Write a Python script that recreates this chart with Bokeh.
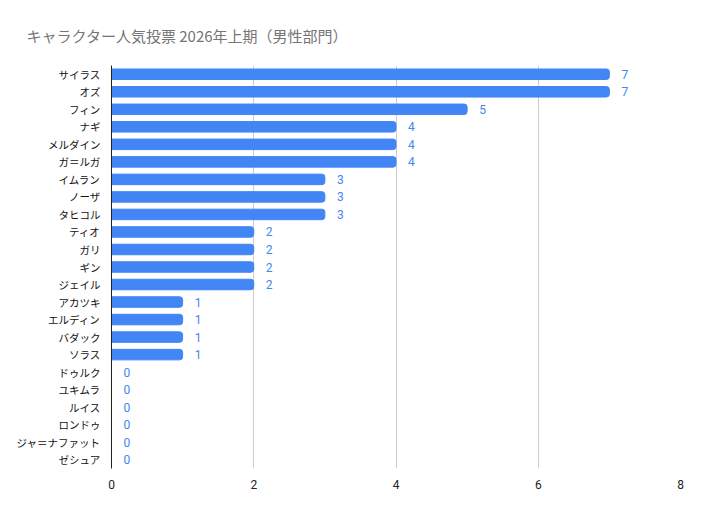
from bokeh.plotting import figure
from bokeh.models import ColumnDataSource, FactorRange, FixedTicker, Title
from bokeh.core.properties import value
from bokeh.embed import file_html
from bokeh.resources import INLINE

names = ["サイラス", "オズ", "フィン", "ナギ", "メルダイン", "ガ＝ルガ", "イムラン", "ノーザ",
         "タヒコル", "ティオ", "ガリ", "ギン", "ジェイル", "アカツキ", "エルディン", "バダック",
         "ソラス", "ドゥルク", "ユキムラ", "ルイス", "ロンドゥ", "ジャ＝ナファット", "ゼシュア"]
votes = [7, 7, 5, 4, 4, 4, 3, 3, 3, 2, 2, 2, 2, 1, 1, 1, 1, 0, 0, 0, 0, 0, 0]
x_ticks = [0, 2, 4, 6, 8]
title_text = "キャラクター人気投票 2026年上期（男性部門）"

FONT = "Noto Sans CJK JP"
NUMFONT = "Roboto"
BLUE = "#4285F4"

src = ColumnDataSource(dict(name=names, votes=votes, label=[str(v) for v in votes]))

p = figure(width=697, height=509, output_backend="svg", toolbar_location=None,
           y_range=FactorRange(factors=list(reversed(names)), range_padding=0),
           x_range=(0, 8), min_border_left=111, min_border_right=17,
           min_border_top=65, min_border_bottom=41)
p.title = None
t = Title(text=title_text, text_font=FONT, text_font_size="15px", text_color="#757575",
          text_font_style="normal", align="left", offset=-85, standoff=39)
p.add_layout(t, "above")

p.hbar(y="name", right="votes", left=0, height=0.6, source=src, color=BLUE,
       border_radius=(0, 3, 3, 0))
p.text(x="votes", y="name", text="label", source=src, x_offset=12,
       text_align="left", text_baseline="middle", text_font=value(NUMFONT),
       text_font_size="12px", text_color=BLUE)

p.outline_line_color = None
p.background_fill_color = "white"
p.border_fill_color = "white"

p.xaxis.ticker = FixedTicker(ticks=x_ticks)
p.xaxis.axis_line_color = None
p.xaxis.major_tick_line_color = None
p.xaxis.minor_tick_line_color = None
p.xaxis.major_label_standoff = 5
p.xaxis.major_label_text_font = NUMFONT
p.xaxis.major_label_text_font_size = "12px"
p.xaxis.major_label_text_color = "#222222"

p.yaxis.axis_line_color = "#222222"
p.yaxis.axis_line_width = 1
p.yaxis.major_tick_line_color = None
p.yaxis.minor_tick_line_color = None
p.yaxis.major_label_standoff = 5
p.yaxis.major_label_text_font = FONT
p.yaxis.major_label_text_font_size = "10.5px"
p.yaxis.major_label_text_color = "#111111"

p.ygrid.grid_line_color = None
p.xgrid.ticker = FixedTicker(ticks=x_ticks[1:])
p.xgrid.grid_line_color = "#cccccc"
p.xgrid.grid_line_width = 1

open("out.html", "w").write(file_html(p, INLINE))
